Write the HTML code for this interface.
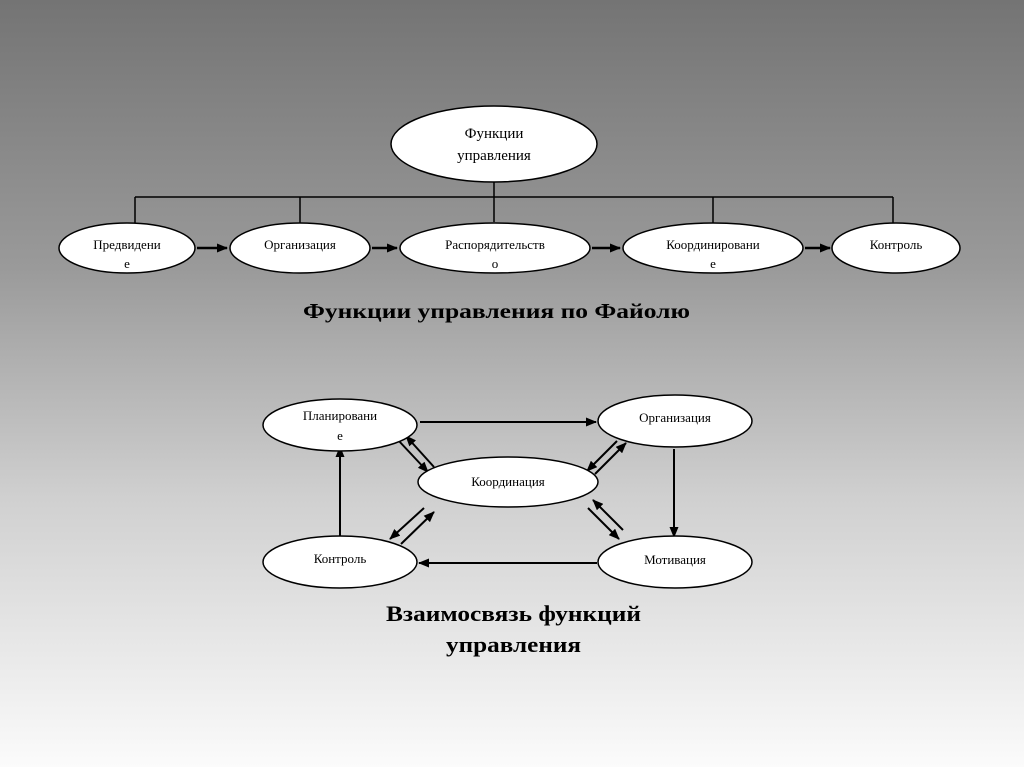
<!DOCTYPE html>
<html><head><meta charset="utf-8"><style>
html,body{margin:0;padding:0;}
body{width:1024px;height:767px;overflow:hidden;background:linear-gradient(#747474 0%,#9a9a9a 35%,#d0d0d0 65%,#fbfbfb 100%);}
svg{display:block}
text{font-family:"Liberation Serif","Noto Serif CJK SC",serif;fill:#000}
</style></head><body>
<svg width="1024" height="767" viewBox="0 0 1024 767">
<defs><marker id="a" markerWidth="11" markerHeight="9" refX="10" refY="4.5" orient="auto" markerUnits="userSpaceOnUse"><path d="M0,0 L11,4.5 L0,9z" fill="#000"/></marker></defs>
<g stroke="#000" stroke-width="1.5" fill="none">
<path d="M494,182 V222 M135,197 H893 M135,197 V223 M300,197 V223 M713,197 V223 M893,197 V223"/>
</g>
<g stroke="#000" stroke-width="1.5" fill="#fff">
<ellipse cx="494" cy="144" rx="103" ry="38"/>
<ellipse cx="127" cy="248" rx="68" ry="25"/>
<ellipse cx="300" cy="248" rx="70" ry="25"/>
<ellipse cx="495" cy="248" rx="95" ry="25"/>
<ellipse cx="713" cy="248" rx="90" ry="25"/>
<ellipse cx="896" cy="248" rx="64" ry="25"/>
</g>
<g stroke="#000" stroke-width="2.5" marker-end="url(#a)">
<line x1="197" y1="248" x2="227" y2="248"/>
<line x1="372" y1="248" x2="397" y2="248"/>
<line x1="592" y1="248" x2="620" y2="248"/>
<line x1="805" y1="248" x2="830" y2="248"/>
</g>
<g font-size="13" text-anchor="middle">
<text x="494" y="138" font-size="15">Функции</text>
<text x="494" y="160" font-size="15">управления</text>
<text x="127" y="249">Предвидени</text><text x="127" y="268">е</text>
<text x="300" y="249">Организация</text>
<text x="495" y="249">Распорядительств</text><text x="495" y="268">о</text>
<text x="713" y="249">Координировани</text><text x="713" y="268">е</text>
<text x="896" y="249">Контроль</text>
</g>
<text x="303" y="318" font-size="21" font-weight="bold" textLength="387" lengthAdjust="spacingAndGlyphs">Функции управления по Файолю</text>

<g stroke="#000" stroke-width="2" marker-end="url(#a)">
<line x1="420" y1="422" x2="596" y2="422"/>
<line x1="674" y1="449" x2="674" y2="537"/>
<line x1="597" y1="563" x2="419" y2="563"/>
<line x1="340" y1="536" x2="340" y2="447"/>
<line x1="398" y1="440" x2="428" y2="472"/>
<line x1="434" y1="467" x2="406" y2="436"/>
<line x1="617" y1="441" x2="587" y2="471"/>
<line x1="595" y1="474" x2="626" y2="443"/>
<line x1="424" y1="508" x2="390" y2="539"/>
<line x1="401" y1="544" x2="434" y2="512"/>
<line x1="588" y1="508" x2="619" y2="539"/>
<line x1="623" y1="530" x2="593" y2="500"/>
</g>
<g stroke="#000" stroke-width="1.5" fill="#fff">
<ellipse cx="340" cy="425" rx="77" ry="26"/>
<ellipse cx="675" cy="421" rx="77" ry="26"/>
<ellipse cx="508" cy="482" rx="90" ry="25"/>
<ellipse cx="340" cy="562" rx="77" ry="26"/>
<ellipse cx="675" cy="562" rx="77" ry="26"/>
</g>
<g font-size="13" text-anchor="middle">
<text x="340" y="420">Планировани</text><text x="340" y="440">е</text>
<text x="675" y="422">Организация</text>
<text x="508" y="486">Координация</text>
<text x="340" y="563">Контроль</text>
<text x="675" y="564">Мотивация</text>
</g>
<text x="386" y="621" font-size="22" font-weight="bold" textLength="255" lengthAdjust="spacingAndGlyphs">Взаимосвязь функций</text>
<text x="446" y="652" font-size="22" font-weight="bold" textLength="135" lengthAdjust="spacingAndGlyphs">управления</text>
</svg>
</body></html>
